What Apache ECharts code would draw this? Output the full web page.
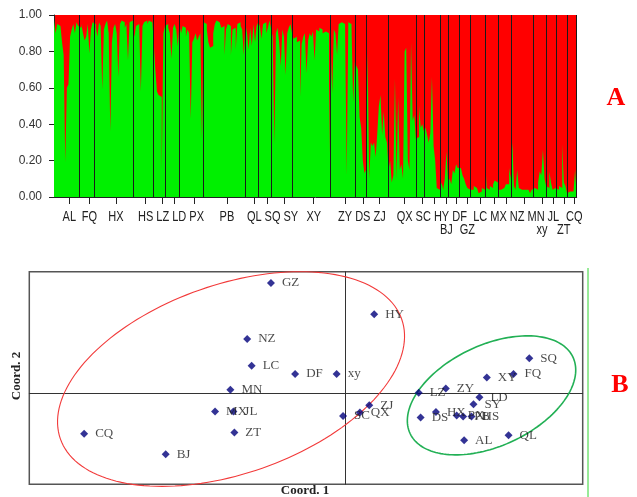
<!DOCTYPE html>
<html><head><meta charset="utf-8">
<script src="https://cdn.jsdelivr.net/npm/echarts@6/dist/echarts.min.js"></script>
<style>html,body{margin:0;padding:0;background:#fff}#c{width:637px;height:497px}</style>
</head><body><div id="c"></div>
<script>
// ---------- Panel A : STRUCTURE (K=2), green = membership in cluster 1 ----------
const popNames = ['AL','FQ','HX','HS','LZ','LD','PX','PB','QL','SQ','SY','XY','ZY','DS','ZJ','QX','SC','HY','BJ','DF','GZ','LC','MX','NZ','MN','xy','JL','ZT','CQ'];
const secondRowNames = ['BJ','GZ','xy','ZT'];

const q_AL = [0.97,0.90,0.95,0.94,0.93,0.85,0.78,0.19,0.60,0.62,0.88,0.92,0.95,0.90,0.96,0.94];
const q_FQ = [0.93,0.95,0.90,0.86,0.88,0.95,0.79,0.92,0.96];
const q_HX = [0.95,0.93,0.88,0.96,0.94,0.59,0.92,0.95,0.97,0.90,0.36,0.85,0.93,0.95,0.90,0.66,0.95,0.97,0.96,0.93,0.95,0.75,0.96,0.97];
const q_HS = [0.92,0.88,0.94,0.95,0.93,0.58,0.94,0.96,0.97,0.95,0.97,0.96,0.98];
const q_LZ = [0.85,0.70,0.58,0.56,0.55,0.15,0.90];
const q_LD = [0.94,0.95,0.93,0.90,0.76,0.93,0.95,0.92,0.83];
const q_PX = [0.95,0.90,0.94,0.93,0.88,0.92,0.90,0.43,0.85,0.87,0.90,0.86,0.88,0.90,0.32];
const q_PB = [0.96,0.95,0.92,0.85,0.82,0.83,0.90,0.95,0.97,0.96,0.95,0.93,0.94,0.78,0.92,0.95,0.94,0.78,0.92,0.93,0.81,0.95,0.96,0.94,0.92,0.78];
const q_QL = [0.95,0.90,0.81,0.93,0.83,0.95,0.85,0.94];
const q_SQ = [0.96,0.94,0.87,0.95,0.96,0.90,0.93,0.97];
const q_SY = [0.92,0.88,0.29,0.90,0.93,0.85,0.72,0.92,0.88,0.67,0.90,0.93,0.95];
const q_XY = [0.90,0.87,0.88,0.85,0.86,0.55,0.84,0.88,0.90,0.68,0.86,0.90,0.88,0.91,0.75,0.92,0.91,0.93,0.92,0.90,0.91,0.92,0.90,0.24];
const q_ZY = [0.86,0.57,0.92,0.90,0.78,0.95,0.96,0.96,0.95,0.96,0.12,0.96,0.95,0.93,0.52];
const q_DS = [0.74,0.72,0.70,0.44,0.38,0.20,0.13];
const q_ZJ = [0.15,0.79,0.10,0.30,0.28,0.30,0.22,0.35,0.50,0.56,0.34,0.47,0.33,0.30];
const q_QX = [0.15,0.20,0.08,0.12,0.65,0.10,0.55,0.15,0.18,0.10,0.80,0.82,0.20,0.15,0.85,0.42,0.45];
const q_SC = [0.32,0.33,0.50,0.38,0.40];
const q_HY = [0.36,0.38,0.34,0.30,0.35,0.66,0.28,0.20,0.05,0.04];
const q_BJ = [0.05,0.08,0.04,0.10,0.25];
const q_DF = [0.08,0.10,0.07,0.15,0.13,0.18,0.16];
const q_GZ = [0.16,0.15,0.12,0.10,0.07,0.05,0.04];
const q_LC = [0.03,0.04,0.06,0.05,0.04,0.02,0.03,0.05,0.04];
const q_MX = [0.22,0.05,0.04,0.06,0.05,0.07,0.09,0.08];
const q_NZ = [0.04,0.04,0.05,0.05,0.06,0.07,0.07,0.16];
const q_MN = [0.10,0.30,0.06,0.04,0.15,0.05,0.04,0.03,0.04,0.03,0.04,0.03,0.02,0.04];
const q_xy = [0.05,0.06,0.04,0.08,0.14,0.12,0.26,0.10];
const q_JL = [0.06,0.05,0.14,0.08,0.04,0.05];
const q_ZT = [0.05,0.04,0.06,0.05,0.29,0.08,0.06];
const q_CQ = [0.02,0.03,0.02,0.03,0.04,0.15];

const popQ = [q_AL,q_FQ,q_HX,q_HS,q_LZ,q_LD,q_PX,q_PB,q_QL,q_SQ,q_SY,q_XY,q_ZY,q_DS,q_ZJ,q_QX,q_SC,q_HY,q_BJ,q_DF,q_GZ,q_LC,q_MX,q_NZ,q_MN,q_xy,q_JL,q_ZT,q_CQ];

// ---------- Panel B : PCoA ----------
const pcoaNames = ['GZ','NZ','LC','DF','xy','HY','MN','MX','JL','ZT','CQ','BJ','ZJ','QX','SC','LZ','ZY','XY','FQ','SQ','LD','SY','DS','HX','PX','PB','HS','AL','QL'];
const pcoaX = [-0.151,-0.199,-0.190,-0.102,-0.018,0.058,-0.233,-0.264,-0.227,-0.225,-0.529,-0.364,0.048,0.029,-0.005,0.148,0.203,0.286,0.340,0.372,0.271,0.259,0.152,0.183,0.225,0.238,0.255,0.240,0.330];
const pcoaY = [0.222,0.109,0.055,0.038,0.038,0.159,0.006,-0.038,-0.038,-0.080,-0.083,-0.124,-0.025,-0.040,-0.047,0.000,0.009,0.031,0.038,0.070,-0.009,-0.023,-0.050,-0.039,-0.046,-0.048,-0.048,-0.096,-0.086];

// grouping ellipses (centre, semi-axes, rotation in degrees)
const ellipseCX = [-0.2317, 0.2955];
const ellipseCY = [0.0279, -0.0051];
const ellipseA = [0.366, 0.182];
const ellipseB = [0.191, 0.102];
const ellipseAngle = [19.3, 25.1];
const ellipseColors = ['#f23a3a', '#22b055'];
const ellipseWidths = [1.1, 1.6];

// ---------- build ----------
const popCounts = popQ.map(a => a.length);
const starts = [];
let acc = 0;
popCounts.forEach(n => { starts.push(acc); acc += n; });
const total = acc;
const tickShift = 1.5; // the original's ticks sit slightly right of each block centre
const centers = starts.map((s, i) => s + popCounts[i] / 2 + tickShift);
const boundaries = starts.slice(1).concat([total]);
const stepData = [];
let k = 0;
popQ.forEach(arr => arr.forEach(v => { stepData.push([k, v]); k++; }));
stepData.push([total, stepData[stepData.length - 1][1]]);

const serifFont = "'Liberation Serif','DejaVu Serif',serif";

const chart = echarts.init(document.getElementById('c'), null, {renderer: 'canvas'});
chart.setOption({
  animation: false,
  backgroundColor: '#ffffff',
  grid: [
    {left: 54, top: 15, width: 522.7, height: 182, show: true, backgroundColor: '#ff0000', borderWidth: 0},
    {left: 29.3, top: 271.7, right: 54.3, bottom: 12.7, show: true, backgroundColor: 'transparent', borderColor: '#555', borderWidth: 1.5}
  ],
  xAxis: [
    {type: 'value', gridIndex: 0, min: 0, max: total,
     axisLine: {show: true, lineStyle: {color: '#222', width: 1}},
     axisTick: {show: true, length: 7, customValues: centers, lineStyle: {color: '#222'}},
     axisLabel: {show: false},
     splitLine: {show: false}},
    {type: 'value', gridIndex: 1, min: -0.64, max: 0.48,
     axisLine: {show: true, onZero: true, lineStyle: {color: '#333', width: 1}},
     axisTick: {show: false}, axisLabel: {show: false}, splitLine: {show: false}}
  ],
  yAxis: [
    {type: 'value', gridIndex: 0, min: 0, max: 1, interval: 0.2,
     axisLine: {show: true, lineStyle: {color: '#222', width: 1}},
     axisTick: {show: true, length: 5, lineStyle: {color: '#222'}},
     axisLabel: {show: true, margin: 12, color: '#333', fontFamily: "'Liberation Sans',Arial,sans-serif", fontSize: 12,
       formatter: v => v.toFixed(2)},
     splitLine: {show: false}},
    {type: 'value', gridIndex: 1, min: -0.185, max: 0.245,
     axisLine: {show: true, onZero: true, lineStyle: {color: '#333', width: 1}},
     axisTick: {show: false}, axisLabel: {show: false}, splitLine: {show: false}}
  ],
  series: [
    {type: 'line', xAxisIndex: 0, yAxisIndex: 0, step: 'end', data: stepData, symbol: 'none', silent: true,
     lineStyle: {width: 0}, areaStyle: {color: '#00f000', opacity: 1},
     markLine: {silent: true, symbol: ['none', 'none'], label: {show: false},
       lineStyle: {color: '#1a1a1a', width: 1, type: 'solid'},
       emphasis: {disabled: true},
       data: boundaries.map(b => ({xAxis: b}))}},
    {type: 'custom', xAxisIndex: 1, yAxisIndex: 1, silent: true, clip: false,
     data: ellipseCX.map((cx, i) => [cx, ellipseCY[i], ellipseA[i], ellipseB[i], ellipseAngle[i]]),
     encode: {x: 0, y: 1},
     renderItem: function (params, api) {
       const cx = api.value(0), cy = api.value(1), a = api.value(2), b = api.value(3), th = api.value(4) * Math.PI / 180;
       const pts = [];
       for (let j = 0; j <= 160; j++) {
         const t = j / 160 * 2 * Math.PI;
         const x = cx + a * Math.cos(t) * Math.cos(th) - b * Math.sin(t) * Math.sin(th);
         const y = cy + a * Math.cos(t) * Math.sin(th) + b * Math.sin(t) * Math.cos(th);
         pts.push(api.coord([x, y]));
       }
       return {type: 'polyline', shape: {points: pts},
         style: {fill: 'none', stroke: ellipseColors[params.dataIndex], lineWidth: ellipseWidths[params.dataIndex]}};
     }},
    {type: 'scatter', xAxisIndex: 1, yAxisIndex: 1, symbol: 'diamond', symbolSize: 8,
     itemStyle: {color: '#00007a'},
     data: pcoaNames.map((n, i) => [pcoaX[i], pcoaY[i], n]),
     label: {show: true, position: 'right', distance: 7, formatter: p => p.data[2],
       fontFamily: serifFont, fontSize: 13, color: '#1a1a1a'}}
  ]
});

// population labels under panel A, placed through the x scale (narrow, as in the original),
// pushed rightwards only where they would collide, like the original's label layout
const labelFont = "14.5px 'Liberation Sans',Arial,sans-serif";
const labelScaleX = 0.76;
const labelGap = 3;
const mctx = document.createElement('canvas').getContext('2d');
mctx.font = labelFont;
const lastRight = {1: -1e9, 2: -1e9};
const labelGraphics = centers.map((c, i) => {
  const row = secondRowNames.indexOf(popNames[i]) >= 0 ? 2 : 1;
  const w = mctx.measureText(popNames[i]).width * labelScaleX;
  let px = chart.convertToPixel({xAxisIndex: 0}, c);
  if (px - w / 2 < lastRight[row] + labelGap) px = lastRight[row] + labelGap + w / 2;
  lastRight[row] = px + w / 2;
  return {type: 'text', x: px, y: row === 2 ? 230 : 216.5, scaleX: labelScaleX,
    style: {text: popNames[i], font: labelFont, fill: '#222', align: 'center', verticalAlign: 'middle'}};
});
const baseGraphics = [
  {type: 'text', x: 616, y: 98, style: {text: 'A', font: "bold 26px 'Liberation Serif',serif", fill: '#ff0000', align: 'center', verticalAlign: 'middle'}},
  {type: 'text', x: 620, y: 385, style: {text: 'B', font: "bold 26px 'Liberation Serif',serif", fill: '#ff0000', align: 'center', verticalAlign: 'middle'}},
  {type: 'text', x: 305, y: 491, style: {text: 'Coord. 1', font: "bold 13px 'Liberation Serif',serif", fill: '#222', align: 'center', verticalAlign: 'middle'}},
  {type: 'text', x: 17, y: 376, rotation: Math.PI / 2, style: {text: 'Coord. 2', font: "bold 13px 'Liberation Serif',serif", fill: '#222', align: 'center', verticalAlign: 'middle'}},
  {type: 'line', shape: {x1: 588, y1: 268, x2: 588, y2: 497}, style: {stroke: '#33d633', lineWidth: 1}}
];
chart.setOption({graphic: baseGraphics.concat(labelGraphics)});
</script></body></html>
